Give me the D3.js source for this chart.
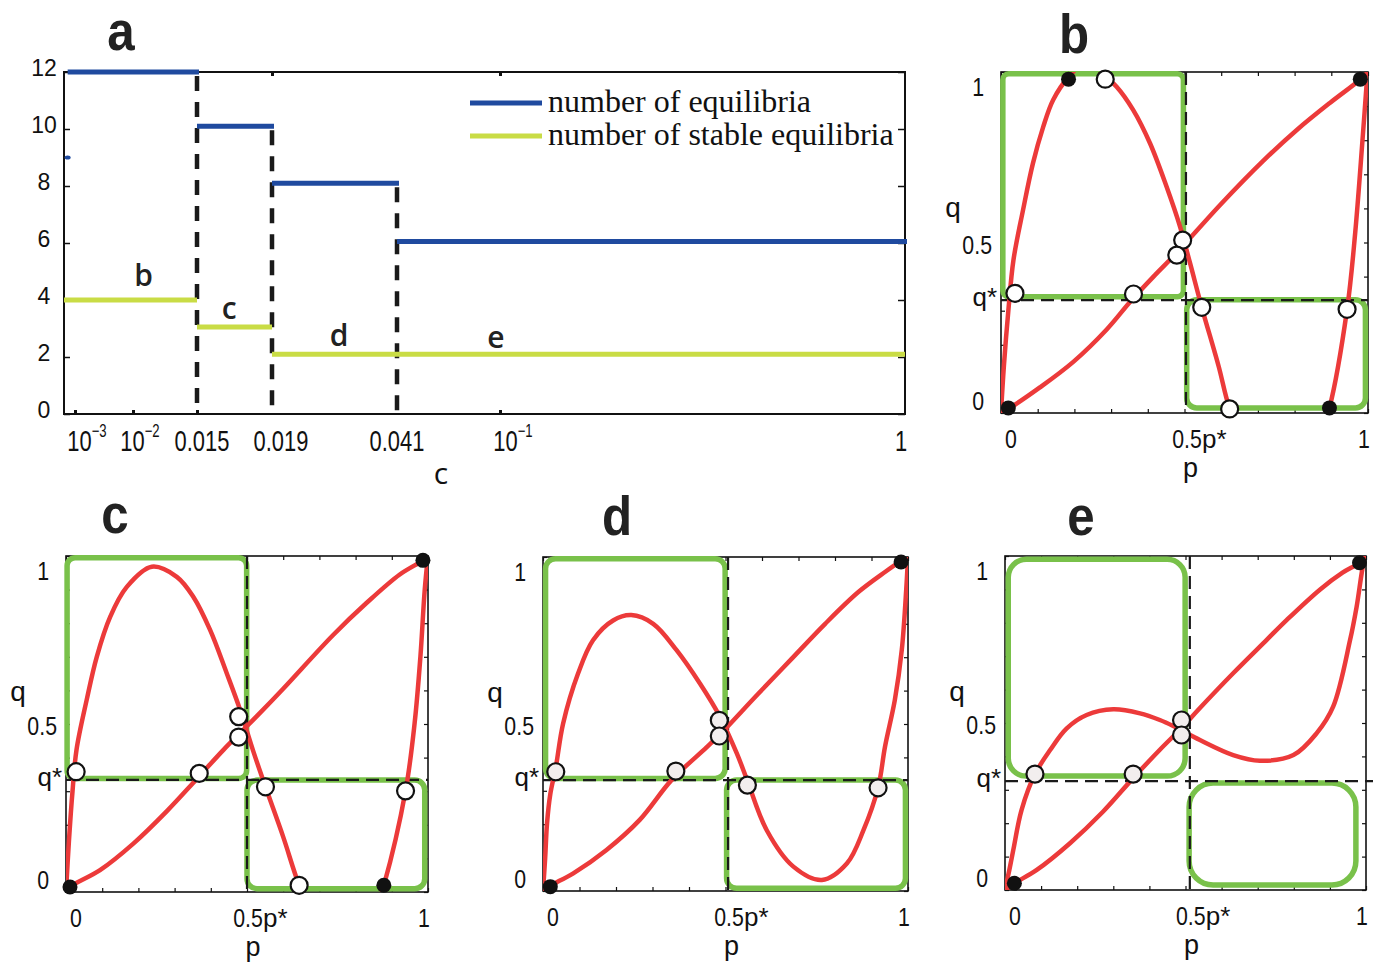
<!DOCTYPE html>
<html>
<head>
<meta charset="utf-8">
<script src="https://cdn.jsdelivr.net/npm/d3@7"></script>
<style>
  body { margin: 0; background: #fff; }
  svg { display: block; }
</style>
</head>
<body>
<svg id="fig" width="1373" height="962"></svg>
<script>
// ---------- panel a : number of equilibria vs c ----------
var cTicks = [0.001, 0.01, 0.015, 0.019, 0.041, 0.1, 1];
var cTickLabels = [["10", "−3"], ["10", "−2"], ["0.015"], ["0.019"], ["0.041"], ["10", "−1"], ["1"]];
var cBreaks = [0.015, 0.019, 0.041];
var breakTop = [12, 10.1, 8.1];          // the dashed break lines start at these counts
var eqEdges = [0.00075, 0.015, 0.019, 0.041, 1];
var eqCounts = [12, 10.1, 8.1, 6.05];
var stableEdges = [0.00065, 0.015, 0.019, 1];
var stableCounts = [4, 3.05, 2.1];
var eqStray = [[0.00075, 9]];
var regionNames = ["b", "c", "d", "e"];
var regionC = [0.0107, 0.0166, 0.0287, 0.0966];
var regionY = [4.5, 3.35, 2.4, 2.3];
var countTicks = [0, 2, 4, 6, 8, 10, 12];

// ---------- panels b-e : phase planes (p, q) ----------
var curveA_b = [[0,0],[0.008,0.14],[0.02,0.3],[0.034,0.449],[0.06,0.595],[0.087,0.732],[0.115,0.839],[0.142,0.918],[0.184,0.985],[0.235,1.03],[0.286,0.985],[0.315,0.957],[0.36,0.889],[0.406,0.791],[0.451,0.664],[0.488,0.546],[0.515,0.44],[0.547,0.31],[0.593,0.137],[0.623,0.012],[0.69,-0.16],[0.77,-0.22],[0.85,-0.13],[0.895,0.015],[0.943,0.304],[0.965,0.527],[0.985,0.8],[1.0,1.02]];
var curveB_b = [[0,0],[0.02,0.012],[0.106,0.075],[0.197,0.15],[0.288,0.245],[0.355,0.33],[0.42,0.405],[0.479,0.47],[0.597,0.61],[0.715,0.74],[0.806,0.83],[0.897,0.91],[0.979,0.978],[1.0,1.0]];
var greenTL_b = [0.005, 0.341, 0.497, 0.995];
var greenBR_b = [0.506, 0.015, 0.993, 0.332];
var openEq_b = [[0.038,0.351],[0.361,0.349],[0.495,0.507],[0.479,0.463],[0.547,0.31],[0.943,0.304],[0.623,0.012],[0.284,0.979]];
var stableEq_b = [[0.02,0.015],[0.184,0.979],[0.895,0.015],[0.979,0.979]];
var star_b = [0.504, 0.331];

var curveA_c = [[0,0],[0.008,0.15],[0.018,0.3],[0.029,0.423],[0.057,0.571],[0.085,0.7],[0.122,0.819],[0.168,0.908],[0.237,0.968],[0.306,0.938],[0.352,0.878],[0.398,0.78],[0.444,0.651],[0.481,0.542],[0.517,0.42],[0.551,0.313],[0.6,0.164],[0.644,0.02],[0.7,-0.12],[0.77,-0.17],[0.84,-0.1],[0.878,0.02],[0.938,0.301],[0.963,0.502],[0.979,0.7],[0.991,0.9],[1.0,1.0]];
var curveB_c = [[0,0],[0.011,0.015],[0.094,0.065],[0.186,0.144],[0.278,0.24],[0.36,0.335],[0.435,0.423],[0.48,0.472],[0.536,0.533],[0.6,0.605],[0.738,0.765],[0.83,0.86],[0.922,0.945],[0.986,0.987],[1.0,1.0]];
var greenTL_c = [0.003, 0.338, 0.499, 0.995];
var greenBR_c = [0.5, 0.01, 0.991, 0.333];
var openEq_c = [[0.028,0.358],[0.368,0.353],[0.477,0.522],[0.477,0.461],[0.551,0.313],[0.938,0.301],[0.644,0.02]];
var stableEq_c = [[0.011,0.015],[0.878,0.02],[0.986,0.987]];
var star_c = [0.5, 0.334];

var curveA_d = [[0,0],[0.006,0.1],[0.011,0.202],[0.02,0.29],[0.035,0.37],[0.055,0.501],[0.096,0.651],[0.137,0.751],[0.192,0.81],[0.242,0.826],[0.302,0.8],[0.366,0.721],[0.43,0.621],[0.485,0.521],[0.531,0.412],[0.56,0.33],[0.613,0.182],[0.686,0.073],[0.764,0.033],[0.833,0.083],[0.878,0.182],[0.918,0.309],[0.937,0.432],[0.964,0.572],[0.983,0.722],[0.995,0.9],[1.0,1.0]];
var curveB_d = [[0,0],[0.019,0.015],[0.083,0.053],[0.174,0.123],[0.265,0.213],[0.352,0.332],[0.448,0.43],[0.485,0.469],[0.589,0.59],[0.681,0.695],[0.773,0.8],[0.864,0.895],[0.937,0.955],[0.978,0.986],[1.0,1.0]];
var greenTL_d = [0.007, 0.337, 0.499, 0.995];
var greenBR_d = [0.503, 0.008, 0.993, 0.332];
var openEq_d = [[0.035,0.357],[0.364,0.359],[0.483,0.511],[0.483,0.464],[0.56,0.317],[0.918,0.309]];
var stableEq_d = [[0.02,0.013],[0.981,0.985]];
var star_d = [0.507, 0.332];

var curveA_e = [[0,0],[0.012,0.06],[0.023,0.12],[0.046,0.24],[0.083,0.347],[0.125,0.419],[0.171,0.484],[0.226,0.524],[0.3,0.541],[0.374,0.529],[0.429,0.509],[0.466,0.491],[0.54,0.449],[0.632,0.404],[0.706,0.387],[0.799,0.404],[0.863,0.469],[0.909,0.549],[0.956,0.749],[0.974,0.848],[0.993,0.978],[1.0,1.0]];
var curveB_e = [[0,0],[0.026,0.02],[0.088,0.06],[0.18,0.14],[0.272,0.235],[0.355,0.335],[0.429,0.42],[0.489,0.485],[0.54,0.545],[0.632,0.649],[0.725,0.749],[0.78,0.808],[0.873,0.9],[0.935,0.95],[0.982,0.98],[1.0,1.0]];
var greenTL_e = [0.009, 0.341, 0.499, 0.99];
var greenBR_e = [0.51, 0.015, 0.972, 0.32];
var openEq_e = [[0.083,0.347],[0.355,0.347],[0.489,0.509],[0.489,0.464]];
var stableEq_e = [[0.026,0.02],[0.982,0.98]];
var star_e = [0.512, 0.326];

var phaseTicks = d3.range(0, 1.0001, 0.1);

// ---------- colours ----------
var BLUE = "#1f4a9f", LIME = "#c9dc45", RED = "#ec3a3a", GREEN = "#79c14a";
var SANS = "Liberation Sans, Arial, sans-serif";
var HEAD = "Open Sans, Noto Sans, sans-serif";

var svg = d3.select("#fig");

// condensed helvetica-like text
function condText(g, x, y, str, size, anchor, sx, weight) {
  return g.append("text")
    .attr("transform", "translate(" + x + "," + y + ") scale(" + sx + ",1)")
    .attr("text-anchor", anchor)
    .attr("font-family", SANS)
    .attr("font-size", size)
    .attr("font-weight", weight || 400)
    .attr("fill", "#111")
    .text(str);
}

// big bold panel letters
function panelLetter(x, y, str) {
  condText(svg, x, y, str, 56, "middle", 0.88, 700).attr("fill", "#222");
}

// ================= panel a =================
var ax = d3.scaleLog()
  .domain([0.00065, 0.001, 0.01, 0.015, 0.019, 0.041, 0.1, 1])
  .range([64, 75, 133, 197, 272, 397, 500, 905]);
var ay = d3.scaleLinear().domain([0, 12]).range([414, 72]);

var ga = svg.append("g");

ga.append("rect")
  .attr("x", 64).attr("y", 72).attr("width", 905 - 64).attr("height", 414 - 72)
  .attr("fill", "none").attr("stroke", "#111").attr("stroke-width", 2);

// ticks
ga.append("g").attr("transform", "translate(0,414)")
  .call(d3.axisBottom(ax).tickValues([0.001, 0.01, 0.015, 0.1]).tickSizeInner(-4).tickSizeOuter(0).tickFormat(""))
  .call(function (g) { g.select(".domain").remove(); g.selectAll("line").attr("stroke", "#111").attr("stroke-width", 3); });
ga.append("g").attr("transform", "translate(0,72)")
  .call(d3.axisTop(ax).tickValues([0.019, 0.1]).tickSizeInner(-4).tickSizeOuter(0).tickFormat(""))
  .call(function (g) { g.select(".domain").remove(); g.selectAll("line").attr("stroke", "#111").attr("stroke-width", 3); });
ga.append("g").attr("transform", "translate(64,0)")
  .call(d3.axisLeft(ay).tickValues(countTicks).tickSizeInner(-6).tickSizeOuter(0).tickFormat(""))
  .call(function (g) { g.select(".domain").remove(); g.selectAll("line").attr("stroke", "#111").attr("stroke-width", 1.5); });
ga.append("g").attr("transform", "translate(905,0)")
  .call(d3.axisRight(ay).tickValues(countTicks).tickSizeInner(-7).tickSizeOuter(0).tickFormat(""))
  .call(function (g) { g.select(".domain").remove(); g.selectAll("line").attr("stroke", "#111").attr("stroke-width", 1.5); });

// y labels
countTicks.forEach(function (v) {
  ga.append("text")
    .attr("x", 44).attr("y", ay(v) + 4)
    .attr("text-anchor", "middle")
    .attr("font-family", SANS).attr("font-size", 23).attr("fill", "#111")
    .text(v);
});

// x labels
var cLabelShift = [12, 7, 5, 9, 0, 13, -4];
cTicks.forEach(function (v, i) {
  var lab = cTickLabels[i];
  var t = ga.append("text")
    .attr("transform", "translate(" + (ax(v) + cLabelShift[i]) + ",451) scale(0.73,1)")
    .attr("text-anchor", "middle")
    .attr("font-family", SANS).attr("font-size", 30).attr("fill", "#111");
  t.append("tspan").text(lab[0]);
  if (lab.length > 1) {
    t.append("tspan").attr("dy", -14).attr("font-size", 18).text(lab[1]);
  }
});
ga.append("text").attr("x", 441).attr("y", 484).attr("text-anchor", "middle")
  .attr("font-family", HEAD).attr("font-size", 30).attr("fill", "#111").text("c");

// dashed break lines
ga.selectAll(".brk").data(cBreaks).enter().append("line")
  .attr("x1", function (d) { return ax(d); }).attr("x2", function (d) { return ax(d); })
  .attr("y1", function (d, i) { return ay(breakTop[i]) + 4; }).attr("y2", ay(0))
  .attr("stroke", "#1a1a1a").attr("stroke-width", 4.5).attr("stroke-dasharray", "15,11");

// step lines
ga.selectAll(".eq").data(eqCounts).enter().append("line")
  .attr("x1", function (d, i) { return ax(eqEdges[i]); })
  .attr("x2", function (d, i) { return ax(eqEdges[i + 1]) + 2; })
  .attr("y1", function (d) { return ay(d); }).attr("y2", function (d) { return ay(d); })
  .attr("stroke", BLUE).attr("stroke-width", 5);
ga.selectAll(".st").data(stableCounts).enter().append("line")
  .attr("x1", function (d, i) { return ax(stableEdges[i]); })
  .attr("x2", function (d, i) { return ax(stableEdges[i + 1]); })
  .attr("y1", function (d) { return ay(d); }).attr("y2", function (d) { return ay(d); })
  .attr("stroke", LIME).attr("stroke-width", 5);
ga.selectAll(".stray").data(eqStray).enter().append("ellipse")
  .attr("cx", function (d) { return ax(d[0]); }).attr("cy", function (d) { return ay(d[1]); })
  .attr("rx", 3).attr("ry", 2).attr("fill", BLUE);

// region letters
regionNames.forEach(function (n, i) {
  ga.append("text").attr("x", ax(regionC[i])).attr("y", ay(regionY[i]))
    .attr("text-anchor", "middle").attr("font-family", HEAD).attr("font-weight", 600)
    .attr("font-size", 30).attr("fill", "#222").text(n);
});

// legend
var legend = [["number of equilibria", BLUE], ["number of stable equilibria", LIME]];
legend.forEach(function (l, i) {
  var yy = 103 + i * 33;
  ga.append("line").attr("x1", 470).attr("x2", 542).attr("y1", yy).attr("y2", yy)
    .attr("stroke", l[1]).attr("stroke-width", 5);
  ga.append("text").attr("x", 548).attr("y", yy + 9)
    .attr("font-family", "Liberation Serif, Times New Roman, serif").attr("font-size", 32)
    .attr("fill", "#111").text(l[0]);
});

panelLetter(121, 50, "a");

// ================= panels b-e =================
var panels = [
  { id: "b", box: [1001, 72, 1368, 413], letter: [1074, 53], A: curveA_b, B: curveB_b, TL: greenTL_b, BR: greenBR_b, rad: [6, 10], open: openEq_b, stable: stableEq_b, star: star_b, fill: "#ffffff", hEnd: 1 },
  { id: "c", box: [66, 556, 428, 892], letter: [115, 533], A: curveA_c, B: curveB_c, TL: greenTL_c, BR: greenBR_c, rad: [8, 10], open: openEq_c, stable: stableEq_c, star: star_c, fill: "#ffffff", hEnd: 1 },
  { id: "d", box: [543, 557, 908, 891], letter: [617, 535], A: curveA_d, B: curveB_d, TL: greenTL_d, BR: greenBR_d, rad: [10, 10], open: openEq_d, stable: stableEq_d, star: star_d, fill: "#f2eeee", hEnd: 1 },
  { id: "e", box: [1005, 556, 1366, 890], letter: [1081, 535], A: curveA_e, B: curveB_e, TL: greenTL_e, BR: greenBR_e, rad: [18, 24], open: openEq_e, stable: stableEq_e, star: star_e, fill: "#f2eeee", hEnd: 1.02 }
];

panels.forEach(function (P) {
  var x0 = P.box[0], y0 = P.box[1], x1 = P.box[2], y1 = P.box[3];
  var x = d3.scaleLinear().domain([0, 1]).range([x0, x1]);
  var y = d3.scaleLinear().domain([0, 1]).range([y1, y0]);
  var g = svg.append("g");

  g.append("clipPath").attr("id", "clip-" + P.id).append("rect")
    .attr("x", x0).attr("y", y0).attr("width", x1 - x0).attr("height", y1 - y0);

  // frame and inward ticks
  g.append("rect").attr("x", x0).attr("y", y0).attr("width", x1 - x0).attr("height", y1 - y0)
    .attr("fill", "none").attr("stroke", "#111").attr("stroke-width", 1.6);
  function tk(sel) {
    sel.select(".domain").remove();
    sel.selectAll("line").attr("stroke", "#111").attr("stroke-width", 1.2);
  }
  g.append("g").attr("transform", "translate(0," + y1 + ")")
    .call(d3.axisBottom(x).tickValues(phaseTicks).tickSizeInner(-4).tickSizeOuter(0).tickFormat("")).call(tk);
  g.append("g").attr("transform", "translate(0," + y0 + ")")
    .call(d3.axisTop(x).tickValues(phaseTicks).tickSizeInner(-4).tickSizeOuter(0).tickFormat("")).call(tk);
  g.append("g").attr("transform", "translate(" + x0 + ",0)")
    .call(d3.axisLeft(y).tickValues(phaseTicks).tickSizeInner(-4).tickSizeOuter(0).tickFormat("")).call(tk);
  g.append("g").attr("transform", "translate(" + x1 + ",0)")
    .call(d3.axisRight(y).tickValues(phaseTicks).tickSizeInner(-4).tickSizeOuter(0).tickFormat("")).call(tk);

  // green loops
  [P.TL, P.BR].forEach(function (r, i) {
    var L = x(r[0]), R = x(r[2]), T = y(r[3]), B = y(r[1]), rad = P.rad[i];
    var pth = d3.path();
    pth.moveTo(L + rad, T);
    pth.arcTo(R, T, R, B, rad);
    pth.arcTo(R, B, L, B, rad);
    pth.arcTo(L, B, L, T, rad);
    pth.arcTo(L, T, R, T, rad);
    pth.closePath();
    g.append("path").attr("d", pth.toString())
      .attr("fill", "none").attr("stroke", GREEN).attr("stroke-width", 5.5);
  });

  // dashed p*, q* lines
  g.append("line").attr("x1", x(P.star[0])).attr("x2", x(P.star[0])).attr("y1", y(1)).attr("y2", y(0))
    .attr("stroke", "#1a1a1a").attr("stroke-width", 2.2).attr("stroke-dasharray", "13,7");
  g.append("line").attr("x1", x(0)).attr("x2", x(P.hEnd)).attr("y1", y(P.star[1])).attr("y2", y(P.star[1]))
    .attr("stroke", "#1a1a1a").attr("stroke-width", 2.2).attr("stroke-dasharray", "13,7");

  // red nullclines
  var line = d3.line().x(function (d) { return x(d[0]); }).y(function (d) { return y(d[1]); })
    .curve(d3.curveCatmullRom.alpha(0.5));
  [P.A, P.B].forEach(function (c) {
    g.append("path").attr("d", line(c)).attr("clip-path", "url(#clip-" + P.id + ")")
      .attr("fill", "none").attr("stroke", RED).attr("stroke-width", 4.5)
      .attr("stroke-linejoin", "round").attr("stroke-linecap", "round");
  });

  // equilibria
  g.selectAll(".open").data(P.open).enter().append("circle")
    .attr("cx", function (d) { return x(d[0]); }).attr("cy", function (d) { return y(d[1]); })
    .attr("r", 8.5).attr("fill", P.fill).attr("stroke", "#111").attr("stroke-width", 2.2);
  g.selectAll(".stab").data(P.stable).enter().append("circle")
    .attr("cx", function (d) { return x(d[0]); }).attr("cy", function (d) { return y(d[1]); })
    .attr("r", 7.5).attr("fill", "#111");

  // tick labels (placed as in the original figure)
  condText(g, x0 - 17, y(1) + 15 + 9, "1", 26, "end", 0.82);
  condText(g, x0 - 9, y(0.5) + 2 + 9, "0.5", 26, "end", 0.82);
  condText(g, x0 - 17, y(0) - 12 + 9, "0", 26, "end", 0.82);
  g.append("text").attr("x", x0 - 4).attr("y", y(P.star[1]) + 6).attr("text-anchor", "end")
    .attr("font-family", SANS).attr("font-size", 26).attr("fill", "#111").text("q*");

  condText(g, x0 + 10, y1 + 35, "0", 26, "middle", 0.82);
  condText(g, x(P.star[0]) + 1, y1 + 35, "0.5", 26, "middle", 0.82);
  g.append("text").attr("x", x(P.star[0]) + 16).attr("y", y1 + 35)
    .attr("font-family", SANS).attr("font-size", 26).attr("fill", "#111").text("p*");
  condText(g, x1 - 4, y1 + 35, "1", 26, "middle", 0.82);

  g.append("text").attr("x", x(0.5) + 6).attr("y", y1 + 64).attr("text-anchor", "middle")
    .attr("font-family", SANS).attr("font-size", 27).attr("fill", "#111").text("p");
  g.append("text").attr("x", x0 - 48).attr("y", y0 + 145).attr("text-anchor", "middle")
    .attr("font-family", SANS).attr("font-size", 28).attr("fill", "#111").text("q");

  panelLetter(P.letter[0], P.letter[1], P.id);
});
</script>
</body>
</html>
